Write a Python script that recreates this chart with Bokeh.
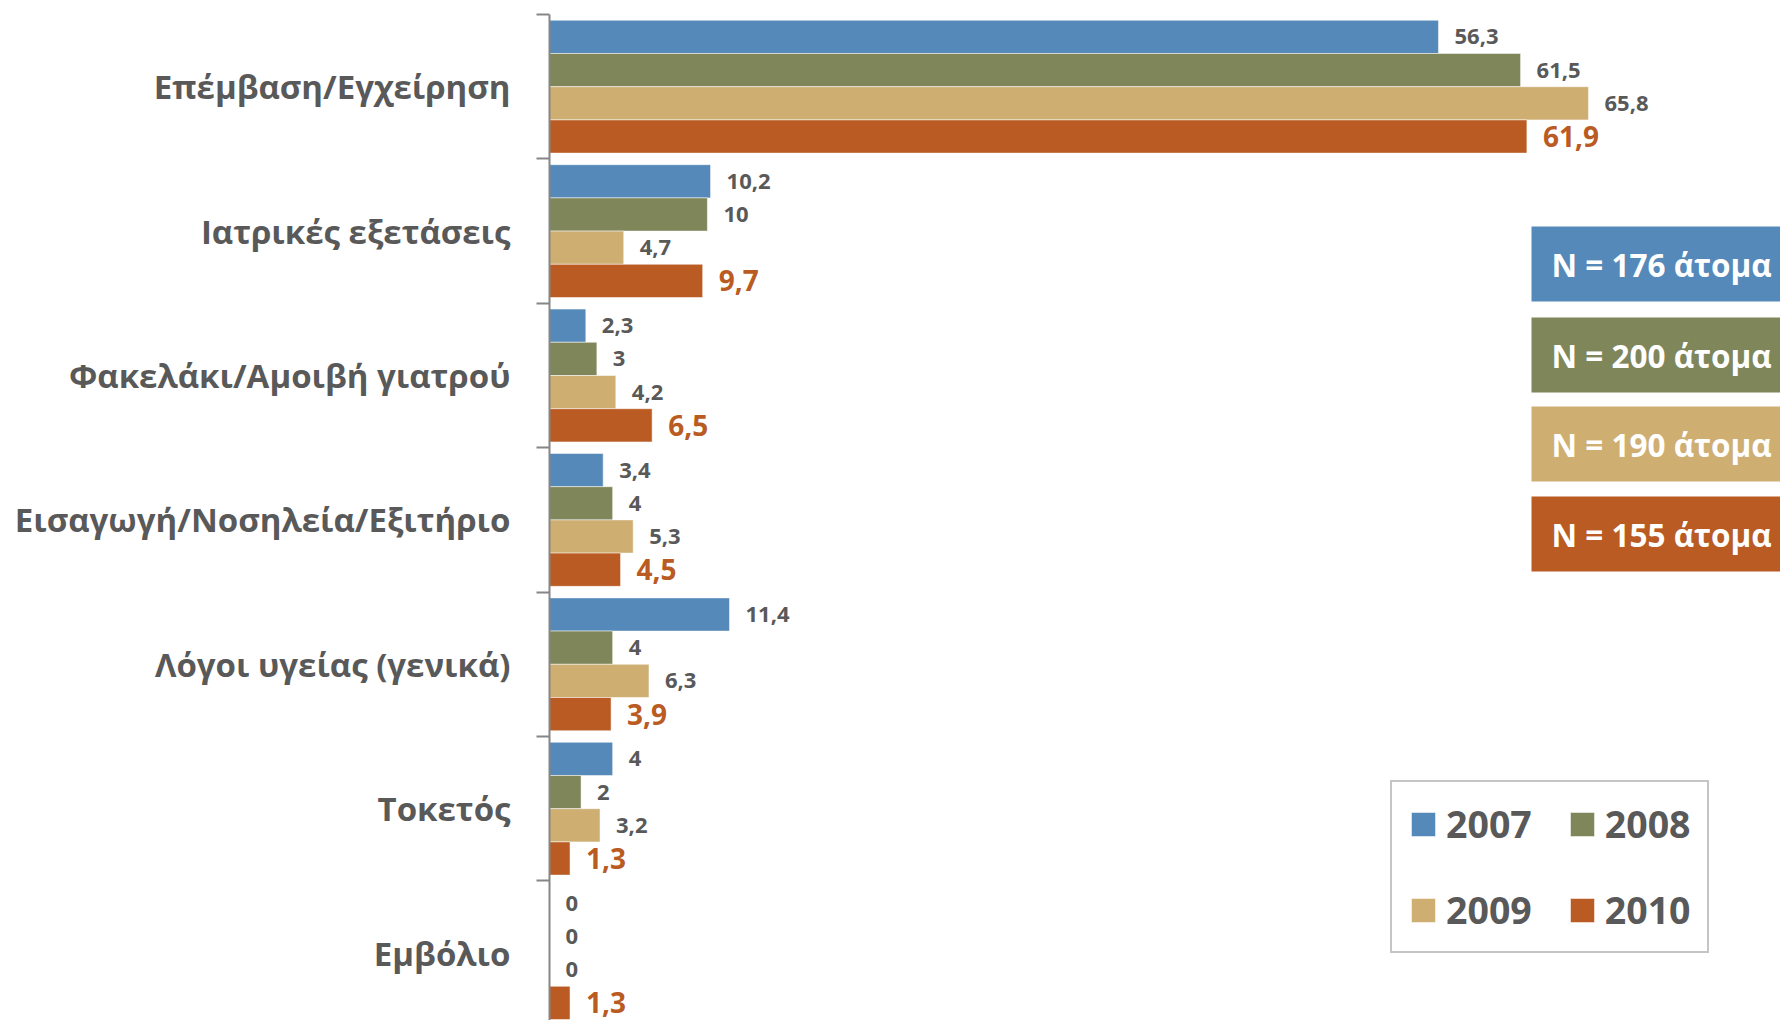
from bokeh.plotting import figure
from bokeh.models import (ColumnDataSource, FixedTicker, Legend, LegendItem,
                          BoxAnnotation, Label, Range1d)
from bokeh.transform import dodge
from bokeh.core.properties import value
from bokeh.embed import file_html
from bokeh.resources import INLINE

# ---------------- data ----------------
categories = ["Επέμβαση/Εγχείρηση", "Ιατρικές εξετάσεις", "Φακελάκι/Αμοιβή γιατρού",
              "Εισαγωγή/Νοσηλεία/Εξιτήριο", "Λόγοι υγείας (γενικά)", "Τοκετός", "Εμβόλιο"]
years = ["2007", "2008", "2009", "2010"]
v2007 = [56.3, 10.2, 2.3, 3.4, 11.4, 4, 0]
v2008 = [61.5, 10, 3, 4, 4, 2, 0]
v2009 = [65.8, 4.7, 4.2, 5.3, 6.3, 3.2, 0]
v2010 = [61.9, 9.7, 6.5, 4.5, 3.9, 1.3, 1.3]
sample_sizes = [176, 200, 190, 155]
colors = ["#5589B9", "#7F865A", "#CFAE72", "#B95B22"]

series = [v2007, v2008, v2009, v2010]

# ---------------- geometry ----------------
W, H = 1780, 1020
FRAME_LEFT, FRAME_TOP = 549, 14
PX_X, PX_Y = 15.79, 144.4
n = len(categories)
y_top = n - 0.5
y_bottom = y_top - (H - FRAME_TOP) / PX_Y
x_end = (W - FRAME_LEFT) / PX_X


def dx(px):
    return (px - FRAME_LEFT) / PX_X


def dy(py):
    return y_top - (py - FRAME_TOP) / PX_Y


centers = [n - 1 - i for i in range(n)]
offsets = [0.345, 0.115, -0.115, -0.345]
bar_h = 0.23

FONT = "Open Sans"
GRAY = "#595959"

p = figure(width=W, height=H, output_backend="svg", toolbar_location=None,
           x_range=Range1d(0, x_end), y_range=Range1d(y_bottom, y_top),
           x_axis_location=None, min_border_left=FRAME_LEFT, min_border_right=0,
           min_border_top=FRAME_TOP, min_border_bottom=0)
p.outline_line_color = None
p.xgrid.visible = False
p.ygrid.visible = False
p.background_fill_color = "white"
p.border_fill_color = "white"


def fmt(v):
    return ("%g" % v).replace(".", ",")


renderers = []
for i, (yr, vals) in enumerate(zip(years, series)):
    src = ColumnDataSource(dict(y=centers, v=vals, label=[fmt(v) for v in vals]))
    r = p.hbar(y=dodge("y", offsets[i]), right="v", left=0, height=bar_h, source=src,
               fill_color=colors[i], line_color="white", line_alpha=0.5, line_width=1)
    renderers.append(r)
    last = (i == len(years) - 1)
    p.text(x="v", y=dodge("y", offsets[i]), text="label", source=src,
           x_offset=16, text_baseline="middle", text_align="left",
           text_font=value(FONT), text_font_style="bold",
           text_font_size="28px" if last else "22px",
           text_color=colors[i] if last else GRAY)

# ---------------- axis ----------------
ax = p.yaxis[0]
boundaries = [c + 0.5 for c in centers] + [centers[-1] - 0.5]
ax.ticker = FixedTicker(ticks=centers, minor_ticks=boundaries)
ax.major_label_overrides = {c: cat for c, cat in zip(centers, categories)}
ax.major_tick_line_color = None
ax.major_tick_out = 0
ax.major_tick_in = 0
ax.minor_tick_line_color = "#868686"
ax.minor_tick_line_width = 2
ax.minor_tick_out = 13
ax.minor_tick_in = 0
ax.axis_line_color = "#868686"
ax.axis_line_width = 2
ax.major_label_standoff = 26
ax.major_label_text_font = FONT
ax.major_label_text_font_style = "bold"
ax.major_label_text_font_size = "33px"
ax.major_label_text_color = GRAY

# ---------------- sample-size boxes ----------------
box_tops = [226, 317, 406, 496]
box_h = 75
for i, (nval, top) in enumerate(zip(sample_sizes, box_tops)):
    p.add_layout(BoxAnnotation(left=dx(1531), right=x_end, top=dy(top), bottom=dy(top + box_h),
                               fill_color=colors[i], fill_alpha=1, line_color=None))
    p.add_layout(Label(x=dx(1551), y=dy(top + box_h / 2), text=f"N = {nval} άτομα",
                       text_baseline="middle", text_align="left", text_color="white",
                       text_font=FONT, text_font_style="bold", text_font_size="31.5px"))

# ---------------- legend (2 columns, filled column by column) ----------------
order = [0, 2, 1, 3]
legend = Legend(items=[LegendItem(label=years[k], renderers=[renderers[k]]) for k in order],
                ncols=2, location=(841, 67),
                border_line_color="#8c8c8c", border_line_width=2,
                background_fill_color="white", background_fill_alpha=1,
                label_text_font=FONT, label_text_font_style="bold",
                label_text_font_size="37.5px", label_text_color=GRAY,
                glyph_width=30, glyph_height=30, label_standoff=8,
                label_height=40, spacing=35, padding=16, margin=0)
p.add_layout(legend, "center")

open("out.html", "w").write(file_html(p, INLINE))
